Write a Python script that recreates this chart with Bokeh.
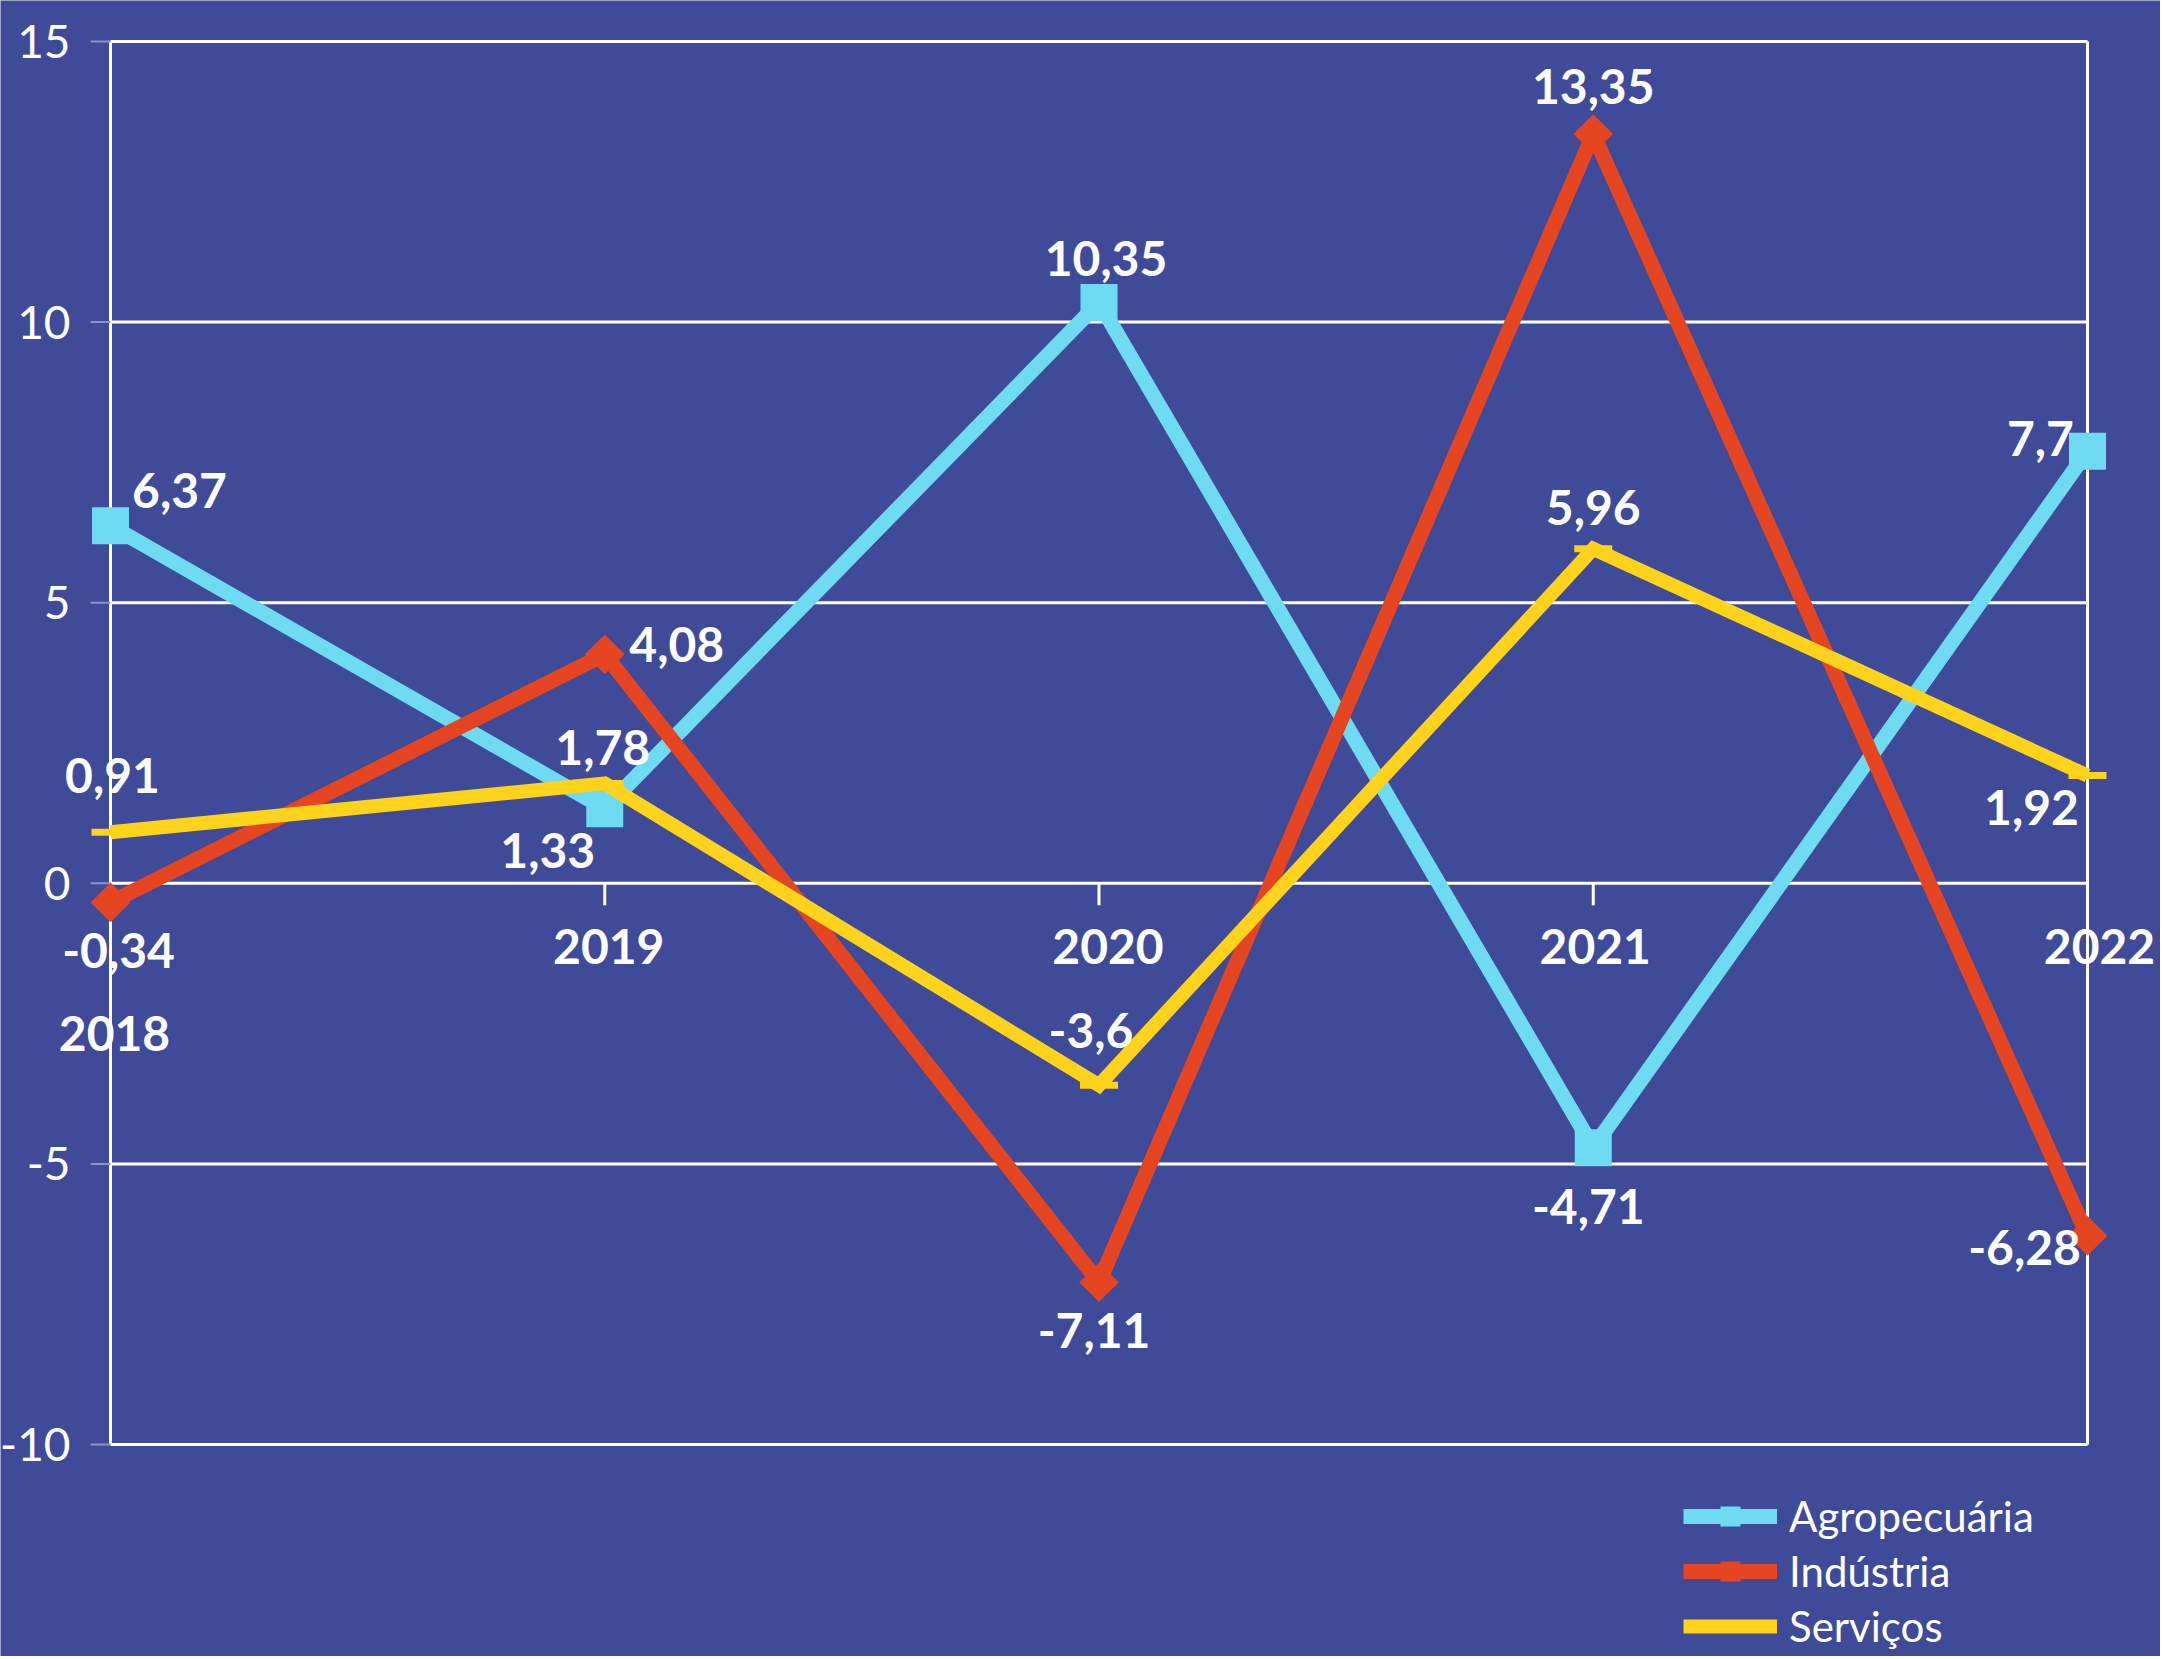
import numpy as np
from bokeh.plotting import figure
from bokeh.models import Range1d, ColumnDataSource, LabelSet, Legend, LegendItem
from bokeh.core.properties import value
from bokeh.embed import file_html
from bokeh.resources import INLINE

# ---------------- data ----------------
years = [2018, 2019, 2020, 2021, 2022]
year_labels = ["2018", "2019", "2020", "2021", "2022"]
agro = [6.37, 1.33, 10.35, -4.71, 7.7]
industria = [-0.34, 4.08, -7.11, 13.35, -6.28]
servicos = [0.91, 1.78, -3.6, 5.96, 1.92]
series_names = ["Agropecuária", "Indústria", "Serviços"]
y_ticks = [-10, -5, 0, 5, 10, 15]
y_tick_labels = ["-10", "-5", "0", "5", "10", "15"]

# ---------------- label placement (screen px, +y = up) ----------------
agro_dx = [69, -57, 7, -5, -47]
agro_dy = [35, -42, 44, -59, 13]
ind_dx = [8, 72, -5, 0, -63]
ind_dy = [-48, 10, -48, 48, -12]
serv_dx = [2, -2, -8, 0, -56]
serv_dy = [57, 36, 55, 41, -32]
year_dx = [4, 4, 9, 2, 12]
year_dy = [150, 63, 63, 63, 63]

# ---------------- colours / styles ----------------
BG = "#3F4A98"
C_AGRO = "#6EDBF3"
C_IND = "#E64522"
C_SERV = "#FFD21C"
FONT = value("Lato")

W, H = 2160, 1656
# frame geometry (figure px): first year at x=110, last at x=2087; 15 at y=41, -10 at y=1444
x_left_px, x_right_px = 110.0, 2087.0
y_top_px, y_bot_px = 41.0, 1444.0
ppx = (x_right_px - x_left_px) / (years[-1] - years[0])
ppy = (y_bot_px - y_top_px) / (y_ticks[-1] - y_ticks[0])
x0 = years[0] - x_left_px / ppx
x1 = years[-1] + (W - x_right_px) / ppx
y1 = y_ticks[-1] + y_top_px / ppy
y0 = y_ticks[0] - (H - y_bot_px) / ppy

p = figure(width=W, height=H, x_range=Range1d(x0, x1), y_range=Range1d(y0, y1),
           x_axis_type=None, y_axis_type=None, toolbar_location=None,
           output_backend="svg", min_border=0)
p.background_fill_color = BG
p.border_fill_color = BG
p.outline_line_color = None

# horizontal grid lines (between first and last year)
p.segment(x0=[years[0]] * len(y_ticks), x1=[years[-1]] * len(y_ticks),
          y0=y_ticks, y1=y_ticks, line_color="white", line_width=3)
# vertical frame lines
p.segment(x0=[years[0], years[-1]], x1=[years[0], years[-1]],
          y0=[y_ticks[0]] * 2, y1=[y_ticks[-1]] * 2, line_color="white", line_width=3)
# y ticks (grey, pointing left)
p.ray(x=[years[0]] * len(y_ticks), y=y_ticks, length=20, length_units="screen",
      angle=np.pi, line_color="#8E93C4", line_width=2)
# x ticks at zero line (pointing down)
p.ray(x=years, y=[0] * len(years), length=22, length_units="screen",
      angle=-np.pi / 2, line_color="white", line_width=3)

# y tick labels
ytl = ColumnDataSource(dict(x=[years[0]] * len(y_ticks), y=y_ticks, t=y_tick_labels))
p.add_layout(LabelSet(x="x", y="y", text="t", source=ytl, x_offset=-40,
                      text_align="right", text_baseline="middle",
                      text_color="white", text_font=FONT,
                      text_font_size="46px"))

# series
agro_line = p.line(years, agro, line_color=C_AGRO, line_width=15, line_join="miter")
agro_pts = p.scatter(years, agro, marker="square", size=37, fill_color=C_AGRO, line_color=None)
ind_line = p.line(years, industria, line_color=C_IND, line_width=15, line_join="miter")
ind_pts = p.scatter(years, industria, marker="square", angle=np.pi / 4, size=28,
                    fill_color=C_IND, line_color=None)
serv_line = p.line(years, servicos, line_color=C_SERV, line_width=14, line_join="miter")
serv_pts = p.scatter(years, servicos, marker="dash", size=38, line_color=C_SERV, line_width=7)


def fmt(v):
    return str(v).replace(".", ",")


for vals, dx, dy in [(agro, agro_dx, agro_dy), (industria, ind_dx, ind_dy),
                     (servicos, serv_dx, serv_dy)]:
    src = ColumnDataSource(dict(x=years, y=vals, t=[fmt(v) for v in vals], dx=dx, dy=dy))
    p.add_layout(LabelSet(x="x", y="y", text="t", source=src, x_offset="dx", y_offset="dy",
                          text_align="center", text_baseline="middle",
                          text_color="white", text_font=FONT,
                          text_font_style="bold", text_font_size="48px"))

# year labels
ysrc = ColumnDataSource(dict(x=years, y=[0] * len(years), t=year_labels, dx=year_dx,
                             dy=[-d for d in year_dy]))
p.add_layout(LabelSet(x="x", y="y", text="t", source=ysrc, x_offset="dx", y_offset="dy",
                      text_align="center", text_baseline="middle",
                      text_color="white", text_font=FONT,
                      text_font_style="bold", text_font_size="48px"))

legend = Legend(items=[
    LegendItem(label=series_names[0], renderers=[agro_line, agro_pts]),
    LegendItem(label=series_names[1], renderers=[ind_line, ind_pts]),
    LegendItem(label=series_names[2], renderers=[serv_line, serv_pts]),
], location=(1683, 5), orientation="vertical", glyph_width=94, glyph_height=50,
    label_height=50, spacing=5, padding=0, margin=0, label_standoff=12,
    background_fill_alpha=0, border_line_color=None, label_text_color="white",
    label_text_font="Lato", label_text_font_size="42px")
p.add_layout(legend)

open("out.html", "w").write(file_html(p, INLINE))
